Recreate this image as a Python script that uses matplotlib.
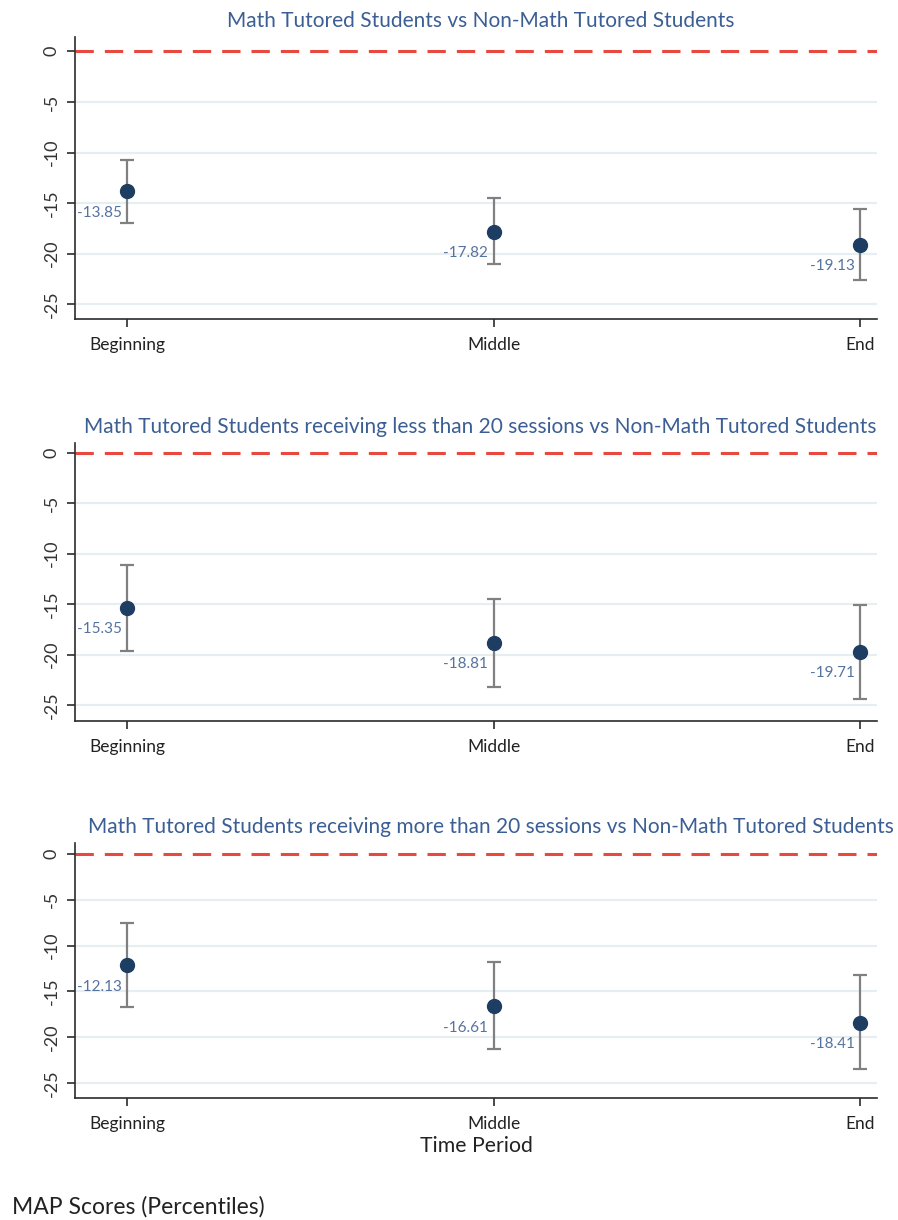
import matplotlib
matplotlib.use("Agg")
import matplotlib.pyplot as plt

plt.rcParams['font.family'] = ['Lato', 'DejaVu Sans']

periods = ["Beginning", "Middle", "End"]

titles = [
    "Math Tutored Students vs Non-Math Tutored Students",
    "Math Tutored Students receiving less than 20 sessions vs Non-Math Tutored Students",
    "Math Tutored Students receiving more than 20 sessions vs Non-Math Tutored Students",
]

# point estimates (difference in MAP percentile) and 95% CI bounds
est_all = [-13.85, -17.82, -19.13]
ci_hi_all = [-10.74, -14.53, -15.62]
ci_lo_all = [-16.95, -21.05, -22.60]

est_lt20 = [-15.35, -18.81, -19.71]
ci_hi_lt20 = [-11.12, -14.49, -15.05]
ci_lo_lt20 = [-19.60, -23.17, -24.36]

est_gt20 = [-12.13, -16.61, -18.41]
ci_hi_gt20 = [-7.58, -11.84, -13.22]
ci_lo_gt20 = [-16.69, -21.35, -23.46]

yticks = [0, -5, -10, -15, -20, -25]

panels = [
    (est_all, ci_lo_all, ci_hi_all),
    (est_lt20, ci_lo_lt20, ci_hi_lt20),
    (est_gt20, ci_lo_gt20, ci_hi_gt20),
]

# axes rectangles in figure fractions and y limits for each panel
rects = [
    [0.0835, 0.7385, 0.893, 0.2314],
    [0.0835, 0.4093, 0.893, 0.2279],
    [0.0835, 0.1002, 0.893, 0.2088],
]
ylims = [(-26.45, 1.44), (-26.53, 0.99), (-26.63, 1.2)]
title_x = [0.506, 0.505, 0.519]

title_col = "#3b5e94"
label_col = "#5573a0"
dot_col = "#1d3d63"
bar_col = "#808080"
red_col = "#e8493f"
grid_col = "#e7eef2"
axis_col = "#2b2b2b"

fig = plt.figure(figsize=(8.98, 12.2), dpi=100)

for i, (est, lo, hi) in enumerate(panels):
    ax = fig.add_axes(rects[i])
    x = list(range(len(periods)))

    for yv in yticks[1:]:
        ax.axhline(yv, color=grid_col, lw=1.6, zorder=0)
    ax.axhline(0, color=red_col, lw=2.2, dashes=(6, 3.6), zorder=1)

    err_lo = [e - l for e, l in zip(est, lo)]
    err_hi = [h - e for e, h in zip(est, hi)]
    ax.errorbar(x, est, yerr=[err_lo, err_hi], fmt='none', ecolor=bar_col,
                elinewidth=1.6, capsize=5, capthick=1.6, zorder=2)
    ax.plot(x, est, 'o', color=dot_col, ms=10, zorder=3)

    for xi, e in zip(x, est):
        ax.annotate(f"{e:.2f}", (xi, e), xytext=(-4, -15.5), textcoords='offset points',
                    ha='right', va='center', fontsize=11, color=label_col)

    ax.set_xlim(-0.142, 2.046)
    ax.set_ylim(*ylims[i])
    ax.set_xticks(x)
    ax.set_xticklabels(periods, fontsize=12.5, color="#222222")
    ax.set_yticks(yticks)
    ax.set_yticklabels([str(t) for t in yticks], rotation=90, va='center',
                       fontsize=13, color="#333333")
    ax.tick_params(axis='both', length=6, width=1.2, color=axis_col)
    ax.tick_params(axis='x', pad=7)
    ax.tick_params(axis='y', pad=5)

    for s in ['top', 'right']:
        ax.spines[s].set_visible(False)
    for s in ['left', 'bottom']:
        ax.spines[s].set_color(axis_col)
        ax.spines[s].set_linewidth(1.2)

    ax.set_title(titles[i], fontsize=15, color=title_col, pad=7, x=title_x[i])

    if i == 2:
        ax.set_xlabel("Time Period", fontsize=15.3, color="#222222", labelpad=3)

fig.text(0.013, 0.002, "MAP Scores (Percentiles)", fontsize=16.5, color="#222222",
         ha='left', va='bottom')

fig.savefig("out.png", dpi=100)
